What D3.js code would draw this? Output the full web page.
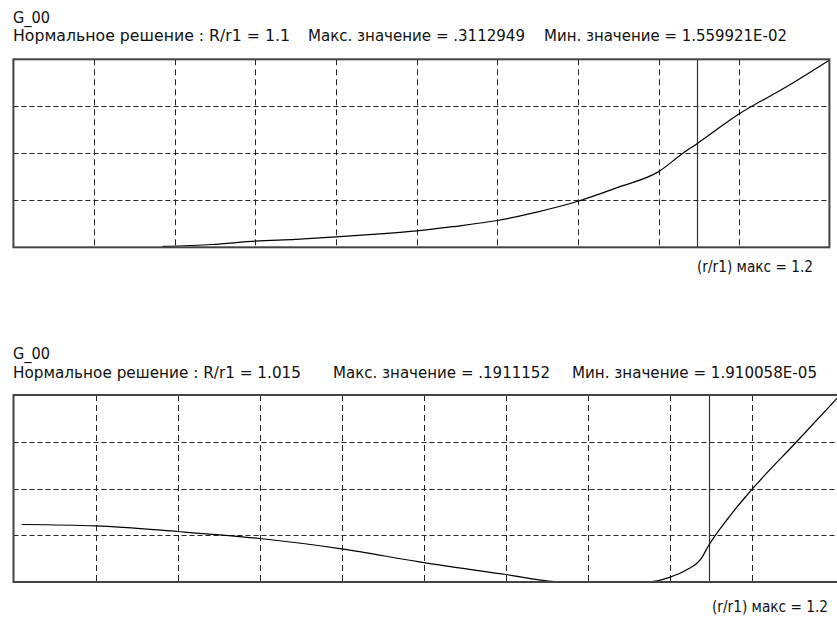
<!DOCTYPE html>
<html>
<head>
<meta charset="utf-8">
<script src="https://cdn.jsdelivr.net/npm/d3@7"></script>
<style>
    body { margin: 0; background: #fff; }
    .lbl { font-family: "Liberation Sans Narrow", "DejaVu Sans Condensed", "Liberation Sans", sans-serif; font-size: 15.5px; fill: #111; }
</style>
</head>
<body>
<div id="chart"></div>
<script>
// Grid positions (in grid units) and axis limits
const xGridTicks = [1, 2, 3, 4, 5, 6, 7, 8, 9];
const yGridTicks = [1, 2, 3];
const xMax = 10.117;
const yMax = 4;
const markerX = 8.48;

// Panel texts
const titles = ["G_00", "G_00"];
const ratioTexts = ["Нормальное решение : R/r1 = 1.1", "Нормальное решение : R/r1 = 1.015"];
const maxTexts = ["Макс. значение = .3112949", "Макс. значение = .1911152"];
const minTexts = ["Мин. значение = 1.559921E-02", "Мин. значение = 1.910058E-05"];
const footTexts = ["(r/r1) макс = 1.2", "(r/r1) макс = 1.2"];

// Top curve (R/r1 = 1.1)
const topX = [1.85, 2.46, 3.0, 3.5, 4.0, 4.5, 5.0, 5.45, 6.0, 6.49, 7.0, 7.52, 8.0, 8.3, 8.48, 9.0, 9.59, 10.115];
const topY = [0.02, 0.06, 0.13, 0.17, 0.22, 0.28, 0.35, 0.44, 0.57, 0.75, 0.98, 1.29, 1.61, 2.0, 2.21, 2.84, 3.42, 3.98];

// Bottom curve (R/r1 = 1.015)
const botX = [0.1, 1.0, 2.0, 3.0, 4.0, 4.95, 6.0, 6.6, 6.8, 7.73, 8.0, 8.21, 8.39, 8.47, 8.73, 9.0, 9.55, 10.08];
const botY = [1.23, 1.20, 1.08, 0.93, 0.71, 0.43, 0.16, 0.01, 0.0, 0.0, 0.10, 0.26, 0.51, 0.76, 1.40, 1.97, 3.0, 4.0];

const width = 837, height = 625;

const svg = d3.select("#chart")
    .append("svg")
    .attr("width", width)
    .attr("height", height);

// Layout of each panel (box and text placement)
const panels = [
    { xs: topX, ys: topY, left: 13.4, right: 829.4, top: 59.3, bottom: 247.3,
      titleY: 22.7, lineY: 40.5, footY: 271.5,
      seg: [[13, 277], [308, 217], [544, 243]], foot: [697, 116] },
    { xs: botX, ys: botY, left: 13.5, right: 843.1, top: 395, bottom: 582,
      titleY: 359.3, lineY: 378.3, footY: 611.5,
      seg: [[13, 288], [333, 217], [572, 245]], foot: [712, 116] }
];

panels.forEach((p, i) => drawPanel(p, i));

/**
 * Draws one panel: texts, box, dashed grid, marker line and curve.
 */
function drawPanel(p, i) {
    const g = svg.append("g");

    const x = d3.scaleLinear().domain([0, xMax]).range([p.left, p.right]);
    const y = d3.scaleLinear().domain([0, yMax]).range([p.bottom, p.top]);

    // Texts above the plot
    g.append("text").attr("class", "lbl")
        .attr("x", 13).attr("y", p.titleY)
        .attr("textLength", 37).attr("lengthAdjust", "spacingAndGlyphs")
        .text(titles[i]);

    [ratioTexts[i], maxTexts[i], minTexts[i]].forEach((t, k) => {
        g.append("text").attr("class", "lbl")
            .attr("x", p.seg[k][0]).attr("y", p.lineY)
            .attr("textLength", p.seg[k][1]).attr("lengthAdjust", "spacingAndGlyphs")
            .text(t);
    });

    // Dashed grid
    g.selectAll(".vgrid").data(xGridTicks).enter()
        .append("line")
        .attr("x1", d => Math.round(x(d)) + 0.5).attr("x2", d => Math.round(x(d)) + 0.5)
        .attr("y1", p.top).attr("y2", p.bottom)
        .attr("stroke", "#222").attr("stroke-width", 1)
        .attr("stroke-dasharray", "6,4");

    g.selectAll(".hgrid").data(yGridTicks).enter()
        .append("line")
        .attr("x1", p.left).attr("x2", p.right)
        .attr("y1", d => Math.round(y(d)) + 0.5).attr("y2", d => Math.round(y(d)) + 0.5)
        .attr("stroke", "#222").attr("stroke-width", 1)
        .attr("stroke-dasharray", "5,3");

    // Solid marker line
    g.append("line")
        .attr("x1", Math.round(x(markerX)) + 0.5).attr("x2", Math.round(x(markerX)) + 0.5)
        .attr("y1", p.top).attr("y2", p.bottom)
        .attr("stroke", "#333").attr("stroke-width", 1.2);

    // Curve
    const line = d3.line()
        .x(d => x(d[0]))
        .y(d => y(d[1]))
        .curve(d3.curveMonotoneX);

    g.append("path")
        .datum(d3.zip(p.xs, p.ys))
        .attr("d", line)
        .attr("fill", "none")
        .attr("stroke", "#000")
        .attr("stroke-width", 1.2);

    // Box border
    g.append("rect")
        .attr("x", p.left).attr("y", p.top)
        .attr("width", p.right - p.left).attr("height", p.bottom - p.top)
        .attr("fill", "none")
        .attr("stroke", "#444").attr("stroke-width", 2);

    // Text under the plot
    g.append("text").attr("class", "lbl")
        .attr("x", p.foot[0]).attr("y", p.footY)
        .attr("textLength", p.foot[1]).attr("lengthAdjust", "spacingAndGlyphs")
        .text(footTexts[i]);
}
</script>
</body>
</html>
